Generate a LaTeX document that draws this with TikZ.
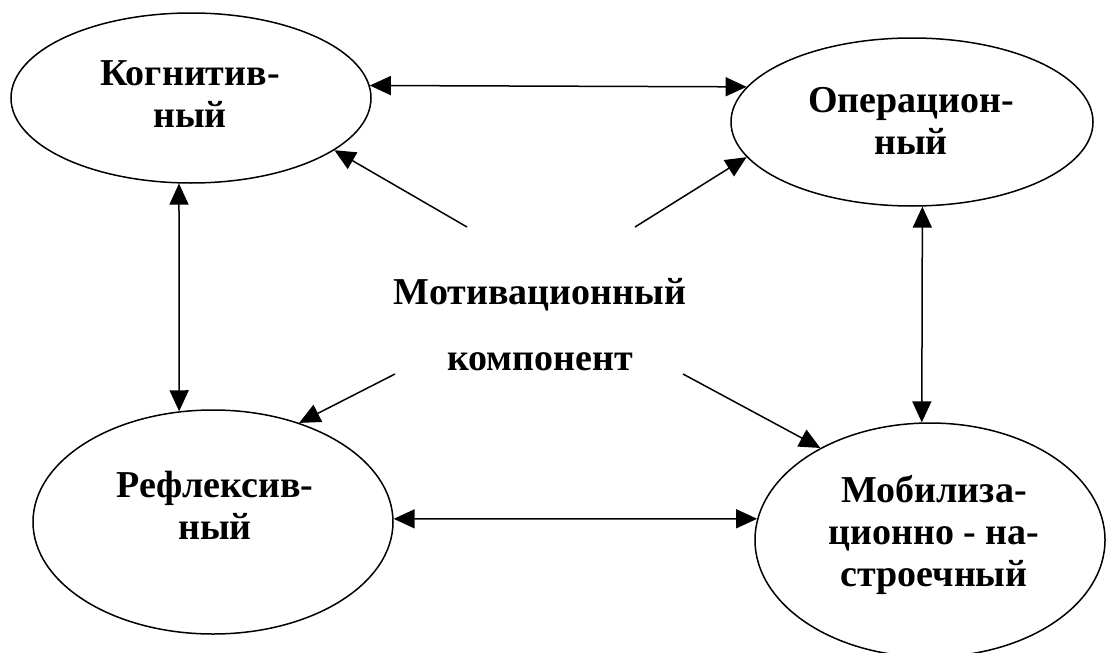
\documentclass[tikz,border=0pt]{standalone}
\usepackage{fontspec}
\setmainfont{Liberation Serif}
\usetikzlibrary{shapes.geometric,arrows.meta}

\begin{document}
\begin{tikzpicture}[x=1pt, y=1pt,
            comp/.style={draw, ellipse, line width=1.5pt, inner sep=0pt},
            lbl/.style={align=center, font=\fontsize{38}{42}\selectfont\bfseries},
            arr/.style={line width=1.5pt, -{Triangle[length=21pt,width=19pt]}},
            dbl/.style={line width=1.5pt, {Triangle[length=21pt,width=19pt]}-{Triangle[length=21pt,width=19pt]}}]
            \useasboundingbox (0,0) rectangle (1108,-653);

            % four components
            \node[comp, minimum width=360pt, minimum height=170pt] (kog) at (191,-98) {};
            \node[comp, minimum width=362pt, minimum height=168pt] (oper) at (912,-122) {};
            \node[comp, minimum width=360pt, minimum height=224pt] (refl) at (213,-522) {};
            \node[comp, minimum width=350pt, minimum height=234pt] (mob) at (930,-540) {};

            \node[lbl] (kogtxt) at (190,-94) {Когнитив-\\ный};
            \node[lbl] (opertxt) at (911,-121) {Операцион-\\ный};
            \node[lbl] (refltxt) at (215,-505) {Рефлексив-\\ный};
            \node[lbl] (mobtxt) at (934,-535) {Мобилиза-\\ционно - на-\\строечный};

            % centre
            \node[lbl] (motiv) at (540,-325) {Мотивационный\\[24pt]компонент};
            \coordinate (m1) at (467,-227);
            \coordinate (m2) at (635,-227);
            \coordinate (m3) at (395,-374);
            \coordinate (m4) at (683,-374);

            \draw[dbl] (kog.4) -- (oper.168);
            \draw[dbl] (refl.1) -- (mob.173);
            \draw[dbl] (kog.262) -- (refl.107);
            \draw[dbl] (oper.277) -- (mob.94);

            \draw[arr] (m1) -- (kog.340);
            \draw[arr] (m2) -- (oper.192);
            \draw[arr] (m3) -- (refl.49);
            \draw[arr] (m4) -- (mob.140);
        \end{tikzpicture}
\end{document}
